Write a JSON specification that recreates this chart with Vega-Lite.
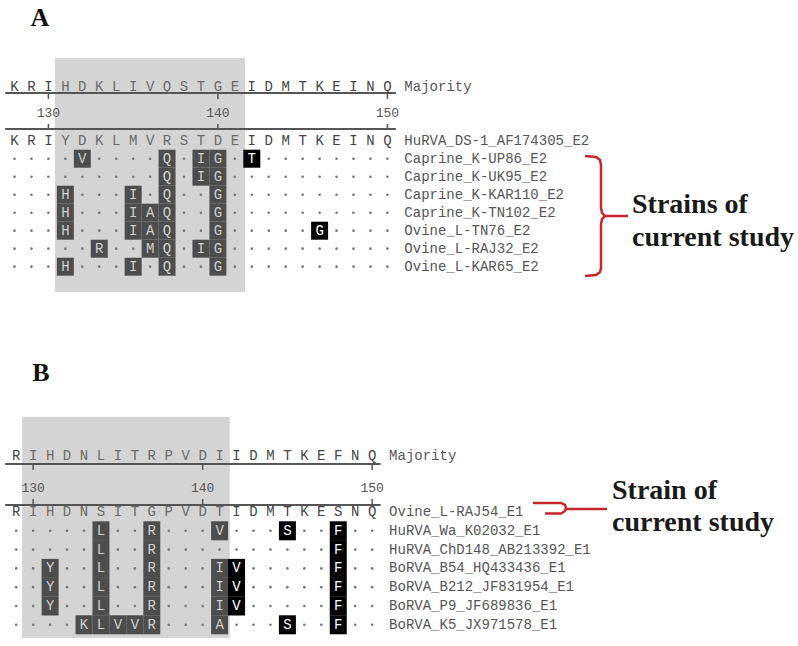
{
"$schema": "https://vega.github.io/schema/vega-lite/v6.json",
"background": "white",
"padding": 0,
"spacing": 0,
"config": {"view": {"stroke": null}, "concat": {"spacing": 0}},
"datasets": {
"cellsA": [
{"row":0,"col":1,"aa":"K"},{"row":0,"col":2,"aa":"R"},{"row":0,"col":3,"aa":"I"},{"row":0,"col":4,"aa":"H"},{"row":0,"col":5,"aa":"D"},{"row":0,"col":6,"aa":"K"},{"row":0,"col":7,"aa":"L"},{"row":0,"col":8,"aa":"I"},{"row":0,"col":9,"aa":"V"},{"row":0,"col":10,"aa":"Q"},{"row":0,"col":11,"aa":"S"},{"row":0,"col":12,"aa":"T"},{"row":0,"col":13,"aa":"G"},{"row":0,"col":14,"aa":"E"},{"row":0,"col":15,"aa":"I"},{"row":0,"col":16,"aa":"D"},{"row":0,"col":17,"aa":"M"},{"row":0,"col":18,"aa":"T"},{"row":0,"col":19,"aa":"K"},{"row":0,"col":20,"aa":"E"},{"row":0,"col":21,"aa":"I"},{"row":0,"col":22,"aa":"N"},{"row":0,"col":23,"aa":"Q"},
{"row":3,"col":1,"aa":"K"},{"row":3,"col":2,"aa":"R"},{"row":3,"col":3,"aa":"I"},{"row":3,"col":4,"aa":"Y"},{"row":3,"col":5,"aa":"D"},{"row":3,"col":6,"aa":"K"},{"row":3,"col":7,"aa":"L"},{"row":3,"col":8,"aa":"M"},{"row":3,"col":9,"aa":"V"},{"row":3,"col":10,"aa":"R"},{"row":3,"col":11,"aa":"S"},{"row":3,"col":12,"aa":"T"},{"row":3,"col":13,"aa":"D"},{"row":3,"col":14,"aa":"E"},{"row":3,"col":15,"aa":"I"},{"row":3,"col":16,"aa":"D"},{"row":3,"col":17,"aa":"M"},{"row":3,"col":18,"aa":"T"},{"row":3,"col":19,"aa":"K"},{"row":3,"col":20,"aa":"E"},{"row":3,"col":21,"aa":"I"},{"row":3,"col":22,"aa":"N"},{"row":3,"col":23,"aa":"Q"},
{"row":4,"col":1,"aa":"."},{"row":4,"col":2,"aa":"."},{"row":4,"col":3,"aa":"."},{"row":4,"col":4,"aa":"."},{"row":4,"col":5,"aa":"V"},{"row":4,"col":6,"aa":"."},{"row":4,"col":7,"aa":"."},{"row":4,"col":8,"aa":"."},{"row":4,"col":9,"aa":"."},{"row":4,"col":10,"aa":"Q"},{"row":4,"col":11,"aa":"."},{"row":4,"col":12,"aa":"I"},{"row":4,"col":13,"aa":"G"},{"row":4,"col":14,"aa":"."},{"row":4,"col":15,"aa":"T"},{"row":4,"col":16,"aa":"."},{"row":4,"col":17,"aa":"."},{"row":4,"col":18,"aa":"."},{"row":4,"col":19,"aa":"."},{"row":4,"col":20,"aa":"."},{"row":4,"col":21,"aa":"."},{"row":4,"col":22,"aa":"."},{"row":4,"col":23,"aa":"."},
{"row":5,"col":1,"aa":"."},{"row":5,"col":2,"aa":"."},{"row":5,"col":3,"aa":"."},{"row":5,"col":4,"aa":"."},{"row":5,"col":5,"aa":"."},{"row":5,"col":6,"aa":"."},{"row":5,"col":7,"aa":"."},{"row":5,"col":8,"aa":"."},{"row":5,"col":9,"aa":"."},{"row":5,"col":10,"aa":"Q"},{"row":5,"col":11,"aa":"."},{"row":5,"col":12,"aa":"I"},{"row":5,"col":13,"aa":"G"},{"row":5,"col":14,"aa":"."},{"row":5,"col":15,"aa":"."},{"row":5,"col":16,"aa":"."},{"row":5,"col":17,"aa":"."},{"row":5,"col":18,"aa":"."},{"row":5,"col":19,"aa":"."},{"row":5,"col":20,"aa":"."},{"row":5,"col":21,"aa":"."},{"row":5,"col":22,"aa":"."},{"row":5,"col":23,"aa":"."},
{"row":6,"col":1,"aa":"."},{"row":6,"col":2,"aa":"."},{"row":6,"col":3,"aa":"."},{"row":6,"col":4,"aa":"H"},{"row":6,"col":5,"aa":"."},{"row":6,"col":6,"aa":"."},{"row":6,"col":7,"aa":"."},{"row":6,"col":8,"aa":"I"},{"row":6,"col":9,"aa":"."},{"row":6,"col":10,"aa":"Q"},{"row":6,"col":11,"aa":"."},{"row":6,"col":12,"aa":"."},{"row":6,"col":13,"aa":"G"},{"row":6,"col":14,"aa":"."},{"row":6,"col":15,"aa":"."},{"row":6,"col":16,"aa":"."},{"row":6,"col":17,"aa":"."},{"row":6,"col":18,"aa":"."},{"row":6,"col":19,"aa":"."},{"row":6,"col":20,"aa":"."},{"row":6,"col":21,"aa":"."},{"row":6,"col":22,"aa":"."},{"row":6,"col":23,"aa":"."},
{"row":7,"col":1,"aa":"."},{"row":7,"col":2,"aa":"."},{"row":7,"col":3,"aa":"."},{"row":7,"col":4,"aa":"H"},{"row":7,"col":5,"aa":"."},{"row":7,"col":6,"aa":"."},{"row":7,"col":7,"aa":"."},{"row":7,"col":8,"aa":"I"},{"row":7,"col":9,"aa":"A"},{"row":7,"col":10,"aa":"Q"},{"row":7,"col":11,"aa":"."},{"row":7,"col":12,"aa":"."},{"row":7,"col":13,"aa":"G"},{"row":7,"col":14,"aa":"."},{"row":7,"col":15,"aa":"."},{"row":7,"col":16,"aa":"."},{"row":7,"col":17,"aa":"."},{"row":7,"col":18,"aa":"."},{"row":7,"col":19,"aa":"."},{"row":7,"col":20,"aa":"."},{"row":7,"col":21,"aa":"."},{"row":7,"col":22,"aa":"."},{"row":7,"col":23,"aa":"."},
{"row":8,"col":1,"aa":"."},{"row":8,"col":2,"aa":"."},{"row":8,"col":3,"aa":"."},{"row":8,"col":4,"aa":"H"},{"row":8,"col":5,"aa":"."},{"row":8,"col":6,"aa":"."},{"row":8,"col":7,"aa":"."},{"row":8,"col":8,"aa":"I"},{"row":8,"col":9,"aa":"A"},{"row":8,"col":10,"aa":"Q"},{"row":8,"col":11,"aa":"."},{"row":8,"col":12,"aa":"."},{"row":8,"col":13,"aa":"G"},{"row":8,"col":14,"aa":"."},{"row":8,"col":15,"aa":"."},{"row":8,"col":16,"aa":"."},{"row":8,"col":17,"aa":"."},{"row":8,"col":18,"aa":"."},{"row":8,"col":19,"aa":"G"},{"row":8,"col":20,"aa":"."},{"row":8,"col":21,"aa":"."},{"row":8,"col":22,"aa":"."},{"row":8,"col":23,"aa":"."},
{"row":9,"col":1,"aa":"."},{"row":9,"col":2,"aa":"."},{"row":9,"col":3,"aa":"."},{"row":9,"col":4,"aa":"."},{"row":9,"col":5,"aa":"."},{"row":9,"col":6,"aa":"R"},{"row":9,"col":7,"aa":"."},{"row":9,"col":8,"aa":"."},{"row":9,"col":9,"aa":"M"},{"row":9,"col":10,"aa":"Q"},{"row":9,"col":11,"aa":"."},{"row":9,"col":12,"aa":"I"},{"row":9,"col":13,"aa":"G"},{"row":9,"col":14,"aa":"."},{"row":9,"col":15,"aa":"."},{"row":9,"col":16,"aa":"."},{"row":9,"col":17,"aa":"."},{"row":9,"col":18,"aa":"."},{"row":9,"col":19,"aa":"."},{"row":9,"col":20,"aa":"."},{"row":9,"col":21,"aa":"."},{"row":9,"col":22,"aa":"."},{"row":9,"col":23,"aa":"."},
{"row":10,"col":1,"aa":"."},{"row":10,"col":2,"aa":"."},{"row":10,"col":3,"aa":"."},{"row":10,"col":4,"aa":"H"},{"row":10,"col":5,"aa":"."},{"row":10,"col":6,"aa":"."},{"row":10,"col":7,"aa":"."},{"row":10,"col":8,"aa":"I"},{"row":10,"col":9,"aa":"."},{"row":10,"col":10,"aa":"Q"},{"row":10,"col":11,"aa":"."},{"row":10,"col":12,"aa":"."},{"row":10,"col":13,"aa":"G"},{"row":10,"col":14,"aa":"."},{"row":10,"col":15,"aa":"."},{"row":10,"col":16,"aa":"."},{"row":10,"col":17,"aa":"."},{"row":10,"col":18,"aa":"."},{"row":10,"col":19,"aa":"."},{"row":10,"col":20,"aa":"."},{"row":10,"col":21,"aa":"."},{"row":10,"col":22,"aa":"."},{"row":10,"col":23,"aa":"."}
],
"cellsB": [
{"row":0,"col":1,"aa":"R"},{"row":0,"col":2,"aa":"I"},{"row":0,"col":3,"aa":"H"},{"row":0,"col":4,"aa":"D"},{"row":0,"col":5,"aa":"N"},{"row":0,"col":6,"aa":"L"},{"row":0,"col":7,"aa":"I"},{"row":0,"col":8,"aa":"T"},{"row":0,"col":9,"aa":"R"},{"row":0,"col":10,"aa":"P"},{"row":0,"col":11,"aa":"V"},{"row":0,"col":12,"aa":"D"},{"row":0,"col":13,"aa":"I"},{"row":0,"col":14,"aa":"I"},{"row":0,"col":15,"aa":"D"},{"row":0,"col":16,"aa":"M"},{"row":0,"col":17,"aa":"T"},{"row":0,"col":18,"aa":"K"},{"row":0,"col":19,"aa":"E"},{"row":0,"col":20,"aa":"F"},{"row":0,"col":21,"aa":"N"},{"row":0,"col":22,"aa":"Q"},
{"row":3,"col":1,"aa":"R"},{"row":3,"col":2,"aa":"I"},{"row":3,"col":3,"aa":"H"},{"row":3,"col":4,"aa":"D"},{"row":3,"col":5,"aa":"N"},{"row":3,"col":6,"aa":"S"},{"row":3,"col":7,"aa":"I"},{"row":3,"col":8,"aa":"T"},{"row":3,"col":9,"aa":"G"},{"row":3,"col":10,"aa":"P"},{"row":3,"col":11,"aa":"V"},{"row":3,"col":12,"aa":"D"},{"row":3,"col":13,"aa":"T"},{"row":3,"col":14,"aa":"I"},{"row":3,"col":15,"aa":"D"},{"row":3,"col":16,"aa":"M"},{"row":3,"col":17,"aa":"T"},{"row":3,"col":18,"aa":"K"},{"row":3,"col":19,"aa":"E"},{"row":3,"col":20,"aa":"S"},{"row":3,"col":21,"aa":"N"},{"row":3,"col":22,"aa":"Q"},
{"row":4,"col":1,"aa":"."},{"row":4,"col":2,"aa":"."},{"row":4,"col":3,"aa":"."},{"row":4,"col":4,"aa":"."},{"row":4,"col":5,"aa":"."},{"row":4,"col":6,"aa":"L"},{"row":4,"col":7,"aa":"."},{"row":4,"col":8,"aa":"."},{"row":4,"col":9,"aa":"R"},{"row":4,"col":10,"aa":"."},{"row":4,"col":11,"aa":"."},{"row":4,"col":12,"aa":"."},{"row":4,"col":13,"aa":"V"},{"row":4,"col":14,"aa":"."},{"row":4,"col":15,"aa":"."},{"row":4,"col":16,"aa":"."},{"row":4,"col":17,"aa":"S"},{"row":4,"col":18,"aa":"."},{"row":4,"col":19,"aa":"."},{"row":4,"col":20,"aa":"F"},{"row":4,"col":21,"aa":"."},{"row":4,"col":22,"aa":"."},
{"row":5,"col":1,"aa":"."},{"row":5,"col":2,"aa":"."},{"row":5,"col":3,"aa":"."},{"row":5,"col":4,"aa":"."},{"row":5,"col":5,"aa":"."},{"row":5,"col":6,"aa":"L"},{"row":5,"col":7,"aa":"."},{"row":5,"col":8,"aa":"."},{"row":5,"col":9,"aa":"R"},{"row":5,"col":10,"aa":"."},{"row":5,"col":11,"aa":"."},{"row":5,"col":12,"aa":"."},{"row":5,"col":13,"aa":"."},{"row":5,"col":14,"aa":"."},{"row":5,"col":15,"aa":"."},{"row":5,"col":16,"aa":"."},{"row":5,"col":17,"aa":"."},{"row":5,"col":18,"aa":"."},{"row":5,"col":19,"aa":"."},{"row":5,"col":20,"aa":"F"},{"row":5,"col":21,"aa":"."},{"row":5,"col":22,"aa":"."},
{"row":6,"col":1,"aa":"."},{"row":6,"col":2,"aa":"."},{"row":6,"col":3,"aa":"Y"},{"row":6,"col":4,"aa":"."},{"row":6,"col":5,"aa":"."},{"row":6,"col":6,"aa":"L"},{"row":6,"col":7,"aa":"."},{"row":6,"col":8,"aa":"."},{"row":6,"col":9,"aa":"R"},{"row":6,"col":10,"aa":"."},{"row":6,"col":11,"aa":"."},{"row":6,"col":12,"aa":"."},{"row":6,"col":13,"aa":"I"},{"row":6,"col":14,"aa":"V"},{"row":6,"col":15,"aa":"."},{"row":6,"col":16,"aa":"."},{"row":6,"col":17,"aa":"."},{"row":6,"col":18,"aa":"."},{"row":6,"col":19,"aa":"."},{"row":6,"col":20,"aa":"F"},{"row":6,"col":21,"aa":"."},{"row":6,"col":22,"aa":"."},
{"row":7,"col":1,"aa":"."},{"row":7,"col":2,"aa":"."},{"row":7,"col":3,"aa":"Y"},{"row":7,"col":4,"aa":"."},{"row":7,"col":5,"aa":"."},{"row":7,"col":6,"aa":"L"},{"row":7,"col":7,"aa":"."},{"row":7,"col":8,"aa":"."},{"row":7,"col":9,"aa":"R"},{"row":7,"col":10,"aa":"."},{"row":7,"col":11,"aa":"."},{"row":7,"col":12,"aa":"."},{"row":7,"col":13,"aa":"I"},{"row":7,"col":14,"aa":"V"},{"row":7,"col":15,"aa":"."},{"row":7,"col":16,"aa":"."},{"row":7,"col":17,"aa":"."},{"row":7,"col":18,"aa":"."},{"row":7,"col":19,"aa":"."},{"row":7,"col":20,"aa":"F"},{"row":7,"col":21,"aa":"."},{"row":7,"col":22,"aa":"."},
{"row":8,"col":1,"aa":"."},{"row":8,"col":2,"aa":"."},{"row":8,"col":3,"aa":"Y"},{"row":8,"col":4,"aa":"."},{"row":8,"col":5,"aa":"."},{"row":8,"col":6,"aa":"L"},{"row":8,"col":7,"aa":"."},{"row":8,"col":8,"aa":"."},{"row":8,"col":9,"aa":"R"},{"row":8,"col":10,"aa":"."},{"row":8,"col":11,"aa":"."},{"row":8,"col":12,"aa":"."},{"row":8,"col":13,"aa":"I"},{"row":8,"col":14,"aa":"V"},{"row":8,"col":15,"aa":"."},{"row":8,"col":16,"aa":"."},{"row":8,"col":17,"aa":"."},{"row":8,"col":18,"aa":"."},{"row":8,"col":19,"aa":"."},{"row":8,"col":20,"aa":"F"},{"row":8,"col":21,"aa":"."},{"row":8,"col":22,"aa":"."},
{"row":9,"col":1,"aa":"."},{"row":9,"col":2,"aa":"."},{"row":9,"col":3,"aa":"."},{"row":9,"col":4,"aa":"."},{"row":9,"col":5,"aa":"K"},{"row":9,"col":6,"aa":"L"},{"row":9,"col":7,"aa":"V"},{"row":9,"col":8,"aa":"V"},{"row":9,"col":9,"aa":"R"},{"row":9,"col":10,"aa":"."},{"row":9,"col":11,"aa":"."},{"row":9,"col":12,"aa":"."},{"row":9,"col":13,"aa":"A"},{"row":9,"col":14,"aa":"."},{"row":9,"col":15,"aa":"."},{"row":9,"col":16,"aa":"."},{"row":9,"col":17,"aa":"S"},{"row":9,"col":18,"aa":"."},{"row":9,"col":19,"aa":"."},{"row":9,"col":20,"aa":"F"},{"row":9,"col":21,"aa":"."},{"row":9,"col":22,"aa":"."}
],
"namesA": [
{"row":0,"col":24,"name":"Majority"},{"row":3,"col":24,"name":"HuRVA_DS-1_AF174305_E2"},{"row":4,"col":24,"name":"Caprine_K-UP86_E2"},{"row":5,"col":24,"name":"Caprine_K-UK95_E2"},{"row":6,"col":24,"name":"Caprine_K-KAR110_E2"},{"row":7,"col":24,"name":"Caprine_K-TN102_E2"},{"row":8,"col":24,"name":"Ovine_L-TN76_E2"},{"row":9,"col":24,"name":"Ovine_L-RAJ32_E2"},{"row":10,"col":24,"name":"Ovine_L-KAR65_E2"}
],
"namesB": [
{"row":0,"col":23,"name":"Majority"},{"row":3,"col":23,"name":"Ovine_L-RAJ54_E1"},{"row":4,"col":23,"name":"HuRVA_Wa_K02032_E1"},{"row":5,"col":23,"name":"HuRVA_ChD148_AB213392_E1"},{"row":6,"col":23,"name":"BoRVA_B54_HQ433436_E1"},{"row":7,"col":23,"name":"BoRVA_B212_JF831954_E1"},{"row":8,"col":23,"name":"BoRVA_P9_JF689836_E1"},{"row":9,"col":23,"name":"BoRVA_K5_JX971578_E1"}
],
"annoA": [
{"kind":"box","col":3.39,"col2":14.6,"row":-1.594,"row2":11.406},
{"kind":"line","col":0.45,"col2":23.5,"row":0.35},
{"kind":"line","col":0.45,"col2":23.5,"row":2.35},
{"kind":"tick","col":3,"row":0.35,"row2":0.68},{"kind":"tick","col":13,"row":0.35,"row2":0.68},{"kind":"tick","col":23,"row":0.35,"row2":0.68},
{"kind":"tick","col":3,"row":2.07,"row2":2.35},{"kind":"tick","col":13,"row":2.07,"row2":2.35},{"kind":"tick","col":23,"row":2.07,"row2":2.35},
{"kind":"num","col":3,"row":1.46,"label":"130"},{"kind":"num","col":13,"row":1.46,"label":"140"},{"kind":"num","col":23,"row":1.46,"label":"150"},
{"kind":"panel","col":2.5,"row":-3.82,"label":"A"},
{"kind":"note","col":37.43,"row":6.6,"label":"Strains of"},
{"kind":"note","col":37.43,"row":8.4,"label":"current study"},
{"kind":"bracket","seg":1,"ord":1,"col":34.658,"row":3.85},
{"kind":"bracket","seg":1,"ord":2,"col":35.307,"row":3.906},
{"kind":"bracket","seg":1,"ord":3,"col":35.543,"row":4.072},
{"kind":"bracket","seg":1,"ord":4,"col":35.602,"row":4.35},
{"kind":"bracket","seg":1,"ord":5,"col":35.602,"row":6.739},
{"kind":"bracket","seg":1,"ord":6,"col":35.661,"row":7.017},
{"kind":"bracket","seg":1,"ord":7,"col":35.838,"row":7.183},
{"kind":"bracket","seg":1,"ord":8,"col":35.661,"row":7.35},
{"kind":"bracket","seg":1,"ord":9,"col":35.602,"row":7.628},
{"kind":"bracket","seg":1,"ord":10,"col":35.602,"row":10.072},
{"kind":"bracket","seg":1,"ord":11,"col":35.543,"row":10.294},
{"kind":"bracket","seg":1,"ord":12,"col":35.307,"row":10.461},
{"kind":"bracket","seg":1,"ord":13,"col":34.658,"row":10.517},
{"kind":"bracket","seg":2,"ord":1,"col":35.838,"row":7.183},
{"kind":"bracket","seg":2,"ord":2,"col":37.195,"row":7.183}
],
"annoB": [
{"kind":"box","col":1.35,"col2":13.6,"row":-2.053,"row2":9.702},
{"kind":"line","col":0.35,"col2":22.5,"row":0.447},
{"kind":"line","col":0.35,"col2":22.5,"row":2.628},
{"kind":"tick","col":2,"row":0.447,"row2":0.766},{"kind":"tick","col":12,"row":0.447,"row2":0.766},{"kind":"tick","col":22,"row":0.447,"row2":0.766},
{"kind":"tick","col":2,"row":2.309,"row2":2.628},{"kind":"tick","col":12,"row":2.309,"row2":2.628},{"kind":"tick","col":22,"row":2.309,"row2":2.628},
{"kind":"num","col":2,"row":1.723,"label":"130"},{"kind":"num","col":12,"row":1.723,"label":"140"},{"kind":"num","col":22,"row":1.723,"label":"150"},
{"kind":"panel","col":2.46,"row":-4.42,"label":"B"},
{"kind":"note","col":36.15,"row":1.883,"label":"Strain of"},
{"kind":"note","col":36.15,"row":3.585,"label":"current study"},
{"kind":"bracket","seg":1,"ord":1,"col":31.49,"row":2.521},
{"kind":"bracket","seg":1,"ord":2,"col":33.142,"row":2.521},
{"kind":"bracket","seg":1,"ord":3,"col":33.378,"row":2.628},
{"kind":"bracket","seg":1,"ord":4,"col":33.437,"row":2.787},
{"kind":"bracket","seg":1,"ord":5,"col":33.378,"row":2.947},
{"kind":"bracket","seg":1,"ord":6,"col":33.142,"row":3.08},
{"kind":"bracket","seg":1,"ord":7,"col":32.198,"row":3.08},
{"kind":"bracket","seg":2,"ord":1,"col":33.437,"row":2.84},
{"kind":"bracket","seg":2,"ord":2,"col":35.856,"row":2.84}
]
},
"vconcat": [
{
"width": 798, "height": 330,
"encoding": {
"x": {"field": "col", "type": "quantitative", "scale": {"domain": [0.1445, 47.224], "nice": false, "zero": false}, "axis": null},
"y": {"field": "row", "type": "quantitative", "scale": {"domain": [-4.817, 13.517], "nice": false, "zero": false, "reverse": true}, "axis": null}
},
"layer": [
{"data": {"name": "annoA"}, "transform": [{"filter": "datum.kind == 'box'"}], "mark": {"type": "rect", "color": "#d4d4d4"}, "encoding": {"x2": {"field": "col2"}, "y2": {"field": "row2"}}},
{"data": {"name": "annoA"}, "transform": [{"filter": "datum.kind == 'line'"}], "mark": {"type": "rule", "color": "#555555", "strokeWidth": 2}, "encoding": {"x2": {"field": "col2"}}},
{"data": {"name": "annoA"}, "transform": [{"filter": "datum.kind == 'tick'"}], "mark": {"type": "rule", "color": "#555555", "strokeWidth": 1.5}, "encoding": {"y2": {"field": "row2"}}},
{"data": {"name": "cellsA"}, "transform": [{"filter": "datum.row > 3 && datum.aa != '.'"}], "mark": {"type": "point", "shape": "M-1,-1.059H1V1.059H-1Z", "filled": true, "opacity": 1, "size": 289, "strokeWidth": 0}, "encoding": {"color": {"condition": {"test": "datum.col >= 4 && datum.col <= 14", "value": "#4d4d4d"}, "value": "#000000"}}},
{"data": {"name": "cellsA"}, "transform": [{"filter": "datum.aa != '.'"}], "mark": {"type": "text", "font": "Liberation Mono", "fontSize": 14, "baseline": "middle", "align": "center"}, "encoding": {"text": {"field": "aa"}, "color": {"condition": [{"test": "datum.row > 3 && datum.col >= 4 && datum.col <= 14", "value": "#d0d0d0"}, {"test": "datum.row > 3", "value": "#ffffff"}, {"test": "datum.col >= 4 && datum.col <= 14", "value": "#6a6a6a"}], "value": "#444444"}}},
{"data": {"name": "cellsA"}, "transform": [{"filter": "datum.aa == '.'"}], "mark": {"type": "point", "shape": "circle", "filled": true, "opacity": 1, "size": 7, "color": "#777777"}},
{"data": {"name": "namesA"}, "mark": {"type": "text", "font": "Liberation Mono", "fontSize": 14, "baseline": "middle", "align": "left", "color": "#555555"}, "encoding": {"text": {"field": "name"}}},
{"data": {"name": "annoA"}, "transform": [{"filter": "datum.kind == 'num'"}], "mark": {"type": "text", "font": "Liberation Mono", "fontSize": 13, "baseline": "middle", "align": "center", "color": "#555555"}, "encoding": {"text": {"field": "label"}}},
{"data": {"name": "annoA"}, "transform": [{"filter": "datum.kind == 'panel'"}], "mark": {"type": "text", "font": "Liberation Serif", "fontSize": 26, "fontWeight": "bold", "baseline": "middle", "align": "center", "color": "#111111"}, "encoding": {"text": {"field": "label"}}},
{"data": {"name": "annoA"}, "transform": [{"filter": "datum.kind == 'bracket'"}], "mark": {"type": "line", "color": "#c8262d", "strokeWidth": 2.5}, "encoding": {"detail": {"field": "seg"}, "order": {"field": "ord"}}},
{"data": {"name": "annoA"}, "transform": [{"filter": "datum.kind == 'note'"}], "mark": {"type": "text", "font": "Liberation Serif", "fontSize": 28, "fontWeight": "bold", "baseline": "middle", "align": "left", "color": "#1a1a1a"}, "encoding": {"text": {"field": "label"}}}
]
},
{
"width": 798, "height": 316,
"encoding": {
"x": {"field": "col", "type": "quantitative", "scale": {"domain": [0.0442, 47.124], "nice": false, "zero": false}, "axis": null},
"y": {"field": "row", "type": "quantitative", "scale": {"domain": [-6.681, 10.128], "nice": false, "zero": false, "reverse": true}, "axis": null}
},
"layer": [
{"data": {"name": "annoB"}, "transform": [{"filter": "datum.kind == 'box'"}], "mark": {"type": "rect", "color": "#d4d4d4"}, "encoding": {"x2": {"field": "col2"}, "y2": {"field": "row2"}}},
{"data": {"name": "annoB"}, "transform": [{"filter": "datum.kind == 'line'"}], "mark": {"type": "rule", "color": "#555555", "strokeWidth": 2}, "encoding": {"x2": {"field": "col2"}}},
{"data": {"name": "annoB"}, "transform": [{"filter": "datum.kind == 'tick'"}], "mark": {"type": "rule", "color": "#555555", "strokeWidth": 1.5}, "encoding": {"y2": {"field": "row2"}}},
{"data": {"name": "cellsB"}, "transform": [{"filter": "datum.row > 3 && datum.aa != '.'"}], "mark": {"type": "point", "shape": "M-1,-1.118H1V1.118H-1Z", "filled": true, "opacity": 1, "size": 289, "strokeWidth": 0}, "encoding": {"color": {"condition": {"test": "datum.col >= 2 && datum.col <= 13", "value": "#4d4d4d"}, "value": "#000000"}}},
{"data": {"name": "cellsB"}, "transform": [{"filter": "datum.aa != '.'"}], "mark": {"type": "text", "font": "Liberation Mono", "fontSize": 14, "baseline": "middle", "align": "center"}, "encoding": {"text": {"field": "aa"}, "color": {"condition": [{"test": "datum.row > 3 && datum.col >= 2 && datum.col <= 13", "value": "#d0d0d0"}, {"test": "datum.row > 3", "value": "#ffffff"}, {"test": "datum.col >= 2 && datum.col <= 13", "value": "#6a6a6a"}], "value": "#444444"}}},
{"data": {"name": "cellsB"}, "transform": [{"filter": "datum.aa == '.'"}], "mark": {"type": "point", "shape": "circle", "filled": true, "opacity": 1, "size": 7, "color": "#777777"}},
{"data": {"name": "namesB"}, "mark": {"type": "text", "font": "Liberation Mono", "fontSize": 14, "baseline": "middle", "align": "left", "color": "#555555"}, "encoding": {"text": {"field": "name"}}},
{"data": {"name": "annoB"}, "transform": [{"filter": "datum.kind == 'num'"}], "mark": {"type": "text", "font": "Liberation Mono", "fontSize": 13, "baseline": "middle", "align": "center", "color": "#555555"}, "encoding": {"text": {"field": "label"}}},
{"data": {"name": "annoB"}, "transform": [{"filter": "datum.kind == 'panel'"}], "mark": {"type": "text", "font": "Liberation Serif", "fontSize": 26, "fontWeight": "bold", "baseline": "middle", "align": "center", "color": "#111111"}, "encoding": {"text": {"field": "label"}}},
{"data": {"name": "annoB"}, "transform": [{"filter": "datum.kind == 'bracket'"}], "mark": {"type": "line", "color": "#c8262d", "strokeWidth": 2.5}, "encoding": {"detail": {"field": "seg"}, "order": {"field": "ord"}}},
{"data": {"name": "annoB"}, "transform": [{"filter": "datum.kind == 'note'"}], "mark": {"type": "text", "font": "Liberation Serif", "fontSize": 28, "fontWeight": "bold", "baseline": "middle", "align": "left", "color": "#1a1a1a"}, "encoding": {"text": {"field": "label"}}}
]
}
]
}
